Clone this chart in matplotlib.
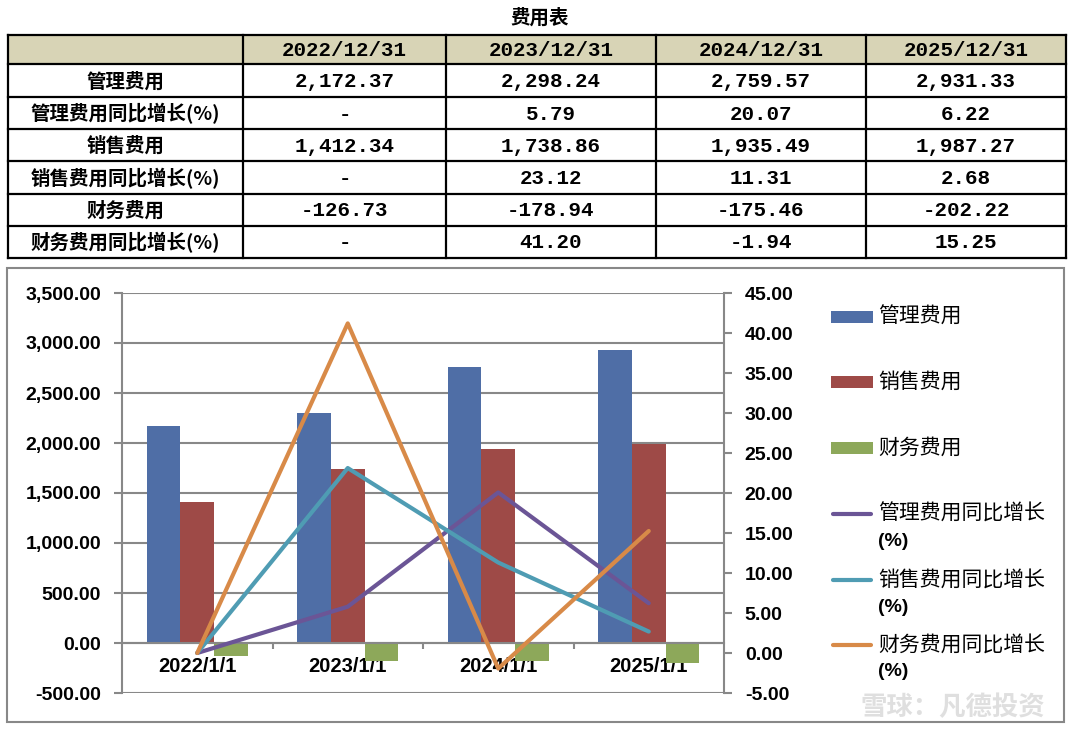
import numpy as np
import matplotlib
matplotlib.use("Agg")
import matplotlib.pyplot as plt
from matplotlib.patches import Rectangle
from matplotlib.lines import Line2D
from matplotlib.ticker import StrMethodFormatter, FixedLocator

plt.rcParams['font.family'] = ['Noto Sans CJK SC', 'DejaVu Sans']
plt.rcParams['font.weight'] = 'bold'
plt.rcParams['axes.unicode_minus'] = False

# ---------------- data ----------------
title = "费用表"
table_dates = ["2022/12/31", "2023/12/31", "2024/12/31", "2025/12/31"]
categories = ["2022/1/1", "2023/1/1", "2024/1/1", "2025/1/1"]
row_labels = ["管理费用", "管理费用同比增长(%)", "销售费用", "销售费用同比增长(%)",
              "财务费用", "财务费用同比增长(%)"]
mgmt = [2172.37, 2298.24, 2759.57, 2931.33]
mgmt_yoy = [None, 5.79, 20.07, 6.22]
sales = [1412.34, 1738.86, 1935.49, 1987.27]
sales_yoy = [None, 23.12, 11.31, 2.68]
fin = [-126.73, -178.94, -175.46, -202.22]
fin_yoy = [None, 41.20, -1.94, 15.25]
series_names = ["管理费用", "销售费用", "财务费用",
                "管理费用同比增长\n(%)", "销售费用同比增长\n(%)", "财务费用同比增长\n(%)"]

# ---------------- styles ----------------
C_BLUE = "#4F6EA6"
C_RED = "#9E4A47"
C_GREEN = "#8DA85A"
C_PURPLE = "#6B5596"
C_TEAL = "#4F9CB3"
C_ORANGE = "#D88A48"
GRID = "#888888"
W, H = 1076, 742
TICKFONT = ["Liberation Sans", "DejaVu Sans"]
MONO = ["Liberation Mono", "DejaVu Sans Mono"]

fig = plt.figure(figsize=(W / 100, H / 100), dpi=100)

# overlay in pixel coordinates for table / frame / legend
ov = fig.add_axes([0, 0, 1, 1], zorder=0)
ov.set_xlim(0, W)
ov.set_ylim(H, 0)
ov.axis("off")

# title
ov.text(540, 18, title, ha="center", va="center", fontsize=14, fontweight="bold")

# table
col_edges = [8, 243, 446, 656, 866, 1066]
row_edges = [35, 64, 97, 129, 161, 194, 226, 258]
ov.add_patch(Rectangle((col_edges[0], row_edges[0]), col_edges[-1] - col_edges[0],
                       row_edges[1] - row_edges[0], facecolor="#D8D4B6", edgecolor="none"))
for xe in col_edges:
    ov.plot([xe, xe], [row_edges[0], row_edges[-1]], color="black", lw=1.6, solid_capstyle="projecting")
for ye in row_edges:
    ov.plot([col_edges[0], col_edges[-1]], [ye, ye], color="black", lw=1.6, solid_capstyle="projecting")

def fmt(v):
    return "-" if v is None else f"{v:,.2f}"

rows = [mgmt, mgmt_yoy, sales, sales_yoy, fin, fin_yoy]
for j, d in enumerate(table_dates):
    cx = (col_edges[j + 1] + col_edges[j + 2]) / 2
    ov.text(cx, (row_edges[0] + row_edges[1]) / 2 + 1, d, ha="center", va="center",
            fontsize=15, fontweight="bold", family=MONO)
for i, (lab, vals) in enumerate(zip(row_labels, rows)):
    cy = (row_edges[i + 1] + row_edges[i + 2]) / 2 + 1
    ov.text((col_edges[0] + col_edges[1]) / 2, cy, lab, ha="center", va="center",
            fontsize=14, fontweight="bold")
    for j, v in enumerate(vals):
        cx = (col_edges[j + 1] + col_edges[j + 2]) / 2
        ov.text(cx, cy, fmt(v), ha="center", va="center", fontsize=15, fontweight="bold",
                family=MONO)

# chart frame
ov.add_patch(Rectangle((7, 268), 1057, 454, facecolor="none", edgecolor=GRID, lw=1.5))

# ---------------- chart ----------------
ax = fig.add_axes([122 / W, 1 - 693 / H, 602 / W, 400 / H], zorder=2)
ax.patch.set_alpha(0)
x = np.arange(len(categories))
bw = 0.224
ax.bar(x - bw, mgmt, bw, color=C_BLUE, zorder=2)
ax.bar(x, sales, bw, color=C_RED, zorder=2)
ax.bar(x + bw, fin, bw, color=C_GREEN, zorder=2)
ax.set_xlim(-0.5, len(categories) - 0.5)
ax.set_ylim(-500, 3500)
ax.yaxis.set_major_locator(FixedLocator(np.arange(-500, 3501, 500)))
ax.yaxis.set_major_formatter(StrMethodFormatter("{x:,.2f}"))
ax.set_axisbelow(True)
ax.yaxis.grid(True, color=GRID, lw=1.5)
for s in ["top", "right"]:
    ax.spines[s].set_visible(False)
ax.spines["left"].set_color(GRID)
ax.spines["left"].set_linewidth(1.5)
ax.spines["bottom"].set_position(("data", 0))
ax.spines["bottom"].set_color(GRID)
ax.spines["bottom"].set_linewidth(1.5)
ax.set_xticks(x)
ax.set_xticklabels(categories)
ax.set_xticks([0.5, 1.5, 2.5], minor=True)
ax.tick_params(axis="x", which="major", length=0, pad=10, labelsize=14.5, labelfontfamily=TICKFONT)
ax.tick_params(axis="x", which="minor", length=4, width=1.5, color=GRID, direction="out")
ax.tick_params(axis="y", length=6, width=1.5, color=GRID, pad=9, labelsize=14, labelfontfamily=TICKFONT)

ax2 = ax.twinx()
ax2.set_zorder(3)
ax2.set_ylim(-5, 45)
ax2.yaxis.set_major_locator(FixedLocator(np.arange(-5, 45.1, 5)))
ax2.yaxis.set_major_formatter(StrMethodFormatter("{x:.2f}"))
for s in ["top", "left", "bottom"]:
    ax2.spines[s].set_visible(False)
ax2.spines["right"].set_color(GRID)
ax2.spines["right"].set_linewidth(1.5)
ax2.tick_params(axis="y", length=6, width=1.5, color=GRID, pad=9, labelsize=14, labelfontfamily=TICKFONT)

def z(v):
    return [0 if a is None else a for a in v]

ax2.plot(x, z(mgmt_yoy), color=C_PURPLE, lw=3, solid_capstyle="round", solid_joinstyle="round")
ax2.plot(x, z(sales_yoy), color=C_TEAL, lw=3, solid_capstyle="round", solid_joinstyle="round")
ax2.plot(x, z(fin_yoy), color=C_ORANGE, lw=3, solid_capstyle="round", solid_joinstyle="round")

# ---------------- legend (pixel coordinates) ----------------
lg = fig.add_axes([0, 0, 1, 1], zorder=4)
lg.set_xlim(0, W)
lg.set_ylim(H, 0)
lg.axis("off")
bar_cols = [C_BLUE, C_RED, C_GREEN]
bar_y = [317, 382, 448]
for c, yy, name in zip(bar_cols, bar_y, series_names[:3]):
    lg.add_patch(Rectangle((831, yy - 6), 42, 12, facecolor=c, edgecolor="none"))
    lg.text(878, yy, name, ha="left", va="center", fontsize=15, fontweight="medium")
line_cols = [C_PURPLE, C_TEAL, C_ORANGE]
line_y = [514, 580, 645]
for c, yy, name in zip(line_cols, line_y, series_names[3:]):
    lg.add_line(Line2D([833, 871], [yy, yy], color=c, lw=3, solid_capstyle="round"))
    first, second = name.split("\n")
    lg.text(878, yy, first, ha="left", va="center", fontsize=15, fontweight="medium")
    lg.text(878, yy + 27, second, ha="left", va="center", fontsize=14, fontweight="bold",
            family=TICKFONT)

# watermark
lg.text(1045, 708, "雪球：凡德投资", ha="right", va="center", fontsize=19,
        color="#d8d8d8", fontweight="bold", alpha=0.8)

fig.savefig("out.png", dpi=100)
